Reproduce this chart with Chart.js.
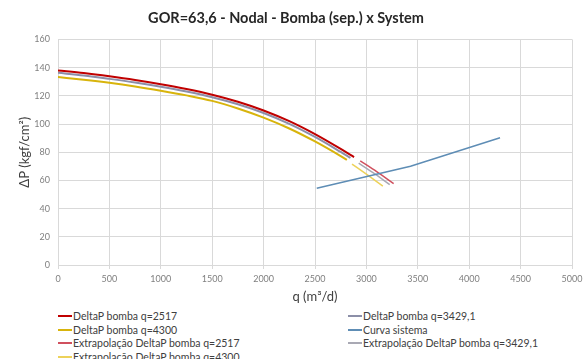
<!DOCTYPE html>
<html>
<head>
<meta charset="utf-8">
<script src="https://cdn.jsdelivr.net/npm/chart.js@4.4.1/dist/chart.umd.min.js"></script>
<style>
  html, body { margin: 0; padding: 0; background: #fff; }
  #wrap { position: relative; width: 585px; height: 359px; overflow: hidden; background: #fff; }
  #c { position: absolute; left: 0; top: 0; }
  #legend { position: absolute; left: 0; top: 309px; width: 585px; font-family: Lato, "Open Sans", sans-serif; font-size: 10.5px; color: #404040; }
  .item { position: absolute; height: 14px; line-height: 14px; white-space: nowrap; }
  .sw { display: inline-block; width: 14px; height: 2px; vertical-align: middle; margin-right: 1px; position: relative; top: -1px; }
</style>
</head>
<body>
<div id="wrap">
  <canvas id="c" width="585" height="305"></canvas>
  <div id="legend"></div>
</div>
<script>
// ---- data ----
const chartTitle = "GOR=63,6 - Nodal - Bomba (sep.) x System";
const xTitle = "q (m³/d)";
const yTitle = "ΔP (kgf/cm²)";

const seriesNames = [
  "DeltaP bomba q=2517",
  "DeltaP bomba q=3429,1",
  "DeltaP bomba q=4300",
  "Curva sistema",
  "Extrapolação DeltaP bomba q=2517",
  "Extrapolação DeltaP bomba q=3429,1",
  "Extrapolação DeltaP bomba q=4300"
];

const qBomba2517 = [0, 250, 500, 750, 1000, 1250, 1500, 1750, 2000, 2250, 2500, 2750, 2880];
const dpBomba2517 = [138, 136.1, 133.8, 131.2, 128.2, 124.8, 120.8, 115.8, 109.6, 102, 92.8, 82.3, 76.5];

const qBomba3429 = [0, 250, 500, 750, 1000, 1250, 1500, 1750, 2000, 2250, 2500, 2750, 2845];
const dpBomba3429 = [136.3, 134.4, 132, 129.4, 126.4, 123, 119, 114, 107.8, 100.1, 90.8, 80.2, 76];

const qBomba4300 = [0, 250, 500, 750, 1000, 1250, 1500, 1750, 2000, 2250, 2500, 2750, 2810];
const dpBomba4300 = [133.3, 131.4, 129.2, 126.6, 123.6, 120.3, 116.4, 111, 104.5, 96.8, 87.6, 77.2, 74.5];

const qSistema = [2517, 3429.1, 4300];
const dpSistema = [54.5, 70, 90.3];

const qExt2517 = [2940, 3100, 3265];
const dpExt2517 = [73.8, 66.2, 57.7];

const qExt3429 = [2925, 3075, 3227];
const dpExt3429 = [72.2, 65, 57];

const qExt4300 = [2860, 3010, 3160];
const dpExt4300 = [71.6, 63.9, 56];

const xTicks = [0, 500, 1000, 1500, 2000, 2500, 3000, 3500, 4000, 4500, 5000];
const yTicks = [0, 20, 40, 60, 80, 100, 120, 140, 160];

// ---- styles ----
const colors = ["#C00000", "#8C8FA8", "#D8B40C", "#5E8DB5", "#D0505E", "#A9A9B4", "#EDD25A"];
const widths = [2, 2, 2, 1.5, 1.5, 1.5, 1.5];

const xs = [qBomba2517, qBomba3429, qBomba4300, qSistema, qExt2517, qExt3429, qExt4300];
const ys = [dpBomba2517, dpBomba3429, dpBomba4300, dpSistema, dpExt2517, dpExt3429, dpExt4300];

const datasets = seriesNames.map((name, i) => ({
  label: name,
  data: xs[i].map((q, k) => ({ x: q, y: ys[i][k] })),
  borderColor: colors[i],
  backgroundColor: colors[i],
  borderWidth: widths[i],
  pointRadius: 0,
  fill: false,
  tension: i === 3 ? 0 : 0.4,
  cubicInterpolationMode: i === 3 ? 'default' : 'monotone'
}));

const FONT = "Lato, 'Open Sans', sans-serif";
const gridColor = "#D9D9D9";

const chart = new Chart(document.getElementById('c'), {
  type: 'scatter',
  data: { datasets },
  options: {
    responsive: false,
    animation: false,
    showLine: true,
    layout: { padding: { left: 0, right: 13, top: 0, bottom: 0 } },
    plugins: {
      legend: { display: false },
      tooltip: { enabled: false },
      title: {
        display: true,
        text: chartTitle,
        color: "#262626",
        font: { family: FONT, size: 14.5, weight: 'bold' },
        padding: { top: 10, bottom: 12 }
      }
    },
    scales: {
      x: {
        type: 'linear',
        min: xTicks[0],
        max: xTicks[xTicks.length - 1],
        afterBuildTicks: s => { s.ticks = xTicks.map(v => ({ value: v })); },
        afterFit: s => { s.height = 40; s.paddingLeft = 0; s.paddingRight = 0; },
        grid: { color: gridColor, tickLength: 4, drawTicks: true, tickColor: gridColor },
        border: { color: gridColor },
        ticks: { color: "#808080", font: { family: FONT, size: 9 }, padding: 5, maxRotation: 0, callback: v => String(v) },
        title: { display: true, text: xTitle, color: "#404040", font: { family: FONT, size: 13 }, padding: { top: 0, bottom: 0 } }
      },
      y: {
        type: 'linear',
        min: yTicks[0],
        max: yTicks[yTicks.length - 1],
        afterBuildTicks: s => { s.ticks = yTicks.map(v => ({ value: v })); },
        afterFit: s => { s.width = 58; s.paddingTop = 0; s.paddingBottom = 0; },
        grid: { color: gridColor, drawTicks: false },
        border: { color: gridColor },
        ticks: { color: "#808080", font: { family: FONT, size: 9 }, padding: 8, callback: v => String(v) },
        title: { display: true, text: yTitle, color: "#404040", font: { family: FONT, size: 13 }, padding: { top: 17, bottom: 0 } }
      }
    }
  }
});

// ---- HTML legend (two columns, row-major like the reference) ----
const legend = document.getElementById('legend');
const colX = [58, 348];
const rowH = 13.5;
chart.data.datasets.forEach((ds, i) => {
  const el = document.createElement('div');
  el.className = 'item';
  el.style.left = colX[i % 2] + 'px';
  el.style.top = (Math.floor(i / 2) * rowH) + 'px';
  const sw = document.createElement('span');
  sw.className = 'sw';
  sw.style.background = ds.borderColor;
  el.appendChild(sw);
  el.appendChild(document.createTextNode(ds.label));
  legend.appendChild(el);
});
</script>
</body>
</html>
